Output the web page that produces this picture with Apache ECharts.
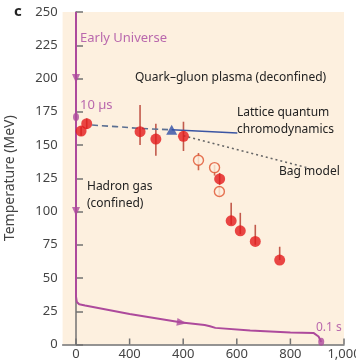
<!DOCTYPE html>
<html><head><meta charset="utf-8">
<script src="https://cdn.jsdelivr.net/npm/echarts@6/dist/echarts.min.js"></script>
<style>html,body{margin:0;padding:0;background:#fff}#c{width:356px;height:364px}</style>
</head><body><div id="c"></div>
<script>
// ---- data ----
const xTickValues = [0, 200, 400, 600, 800, 1000];
const xTickLabels = ['0', '400', '400', '600', '800', '1,000'];   // as printed in the figure

const filledX    = [19, 40, 239, 298, 401, 536, 579, 613, 669, 760];
const filledY    = [160.5, 166, 160, 154.5, 156.5, 124.5, 93, 85.5, 77.5, 63.5];
const filledLow  = [157, 162, 150, 142, 145.5, 120, 90, 83, 75, 63.5];
const filledHigh = [164, 170, 180, 166, 167.5, 129, 106.5, 99, 90, 73.5];

const openX    = [457, 517, 535];
const openY    = [138.5, 133, 115];
const openLow  = [131, 127, 112];
const openHigh = [144, 135, 119];

const latticeX = [357];
const latticeY = [161.5];

const dashedX = [60, 150, 240, 357];
const dashedY = [165, 163.8, 162.5, 161.5];

const lqcdX = [357, 602];
const lqcdY = [161.5, 159];

const bagX = [401, 862];
const bagY = [157, 133];

const trajX = [0, 0, 3, 12, 34, 200, 395, 480, 500, 520, 650, 800, 886, 905, 915];
const trajY = [250, 36, 32, 30.2, 29.3, 23, 16.5, 14.6, 13.7, 12.5, 10.5, 9, 8.7, 6, 2];

const downArrowX = [0, 0];
const downArrowY = [200, 100];
const rightArrowX = [395];
const rightArrowY = [16.5];

const markerX = [0, 915];
const markerY = [171, 2];

// ---- build ----
const zip = (xs, ys) => xs.map((x, i) => [x, ys[i]]);
const purple = '#ad4a9c';
const purpleText = '#b968ad';
const FONT = 'Noto Sans';
const BG = '#fdf0df';
const X_MIN = -50, X_MAX = 1000, Y_MIN = 0, Y_MAX = 250;
const G_LEFT = 62.6, G_RIGHT = 12, G_TOP = 12, G_BOTTOM = 19.5;
const axisGray = '#727272';

function errBars(xs, lows, highs, color) {
  return {
    type: 'custom', z: 3,
    data: xs.map((x, i) => [x, lows[i], highs[i]]),
    renderItem: (params, api) => {
      const p1 = api.coord([api.value(0), api.value(1)]);
      const p2 = api.coord([api.value(0), api.value(2)]);
      return { type: 'line', shape: { x1: p1[0], y1: p1[1], x2: p2[0], y2: p2[1] },
               style: { stroke: color, lineWidth: 1.6 } };
    }
  };
}

const chart = echarts.init(document.getElementById('c'), null, { renderer: 'canvas' });
chart.setOption({
  animation: false,
  backgroundColor: '#ffffff',
  textStyle: { fontFamily: FONT },
  grid: { left: G_LEFT, right: G_RIGHT, top: G_TOP, bottom: G_BOTTOM, containLabel: false, outerBoundsMode: 'none' },
  xAxis: { type: 'value', min: X_MIN, max: X_MAX,
      splitLine: { show: false }, axisTick: { show: false }, axisLabel: { show: false },
      axisLine: { show: true, onZero: false, lineStyle: { color: axisGray, width: 1.5 } } },
  yAxis: { type: 'value', min: Y_MIN, max: Y_MAX, interval: 25,
      name: 'Temperature (MeV)', nameLocation: 'middle', nameGap: 46,
      nameTextStyle: { color: '#444', fontSize: 14, fontFamily: FONT },
      splitLine: { show: false },
      axisLine: { show: true, lineStyle: { color: axisGray, width: 1.5 } },
      axisTick: { show: true, inside: true, length: 7, lineStyle: { color: axisGray, width: 1.5 } },
      axisLabel: { show: true, color: '#444', fontSize: 13, margin: 5, fontFamily: FONT } },
  series: [
    { type: 'custom', z: -1, silent: true, data: [[X_MIN, Y_MAX, X_MAX, Y_MIN]],
      renderItem: (params, api) => {
        const a = api.coord([api.value(0), api.value(1)]);
        const b = api.coord([api.value(2), api.value(3)]);
        return { type: 'rect', shape: { x: a[0], y: a[1], width: b[0] - a[0], height: b[1] - a[1] },
                 style: { fill: BG } };
      } },
    // x tick marks and their printed labels, placed through the x scale
    { type: 'custom', z: 4, silent: true,
      data: xTickValues.map(v => [v, Y_MIN]),
      renderItem: (params, api) => {
        const p = api.coord([api.value(0), api.value(1)]);
        return { type: 'group', children: [
          { type: 'line', shape: { x1: p[0], y1: p[1], x2: p[0], y2: p[1] - 6 },
            style: { stroke: axisGray, lineWidth: 1.5 } },
          { type: 'text', x: p[0], y: p[1] + 3,
            style: { text: xTickLabels[params.dataIndex], fill: '#444', font: '13px "Noto Sans"',
                     align: 'center', verticalAlign: 'top' } }
        ] };
      } },
    { type: 'line', data: zip(trajX, trajY), symbol: 'none', z: 2,
      lineStyle: { color: purple, width: 2 } },
    { type: 'scatter', data: zip(downArrowX, downArrowY), symbol: 'triangle', symbolSize: [8, 9],
      symbolRotate: 180, itemStyle: { color: purple }, z: 2 },
    { type: 'scatter', data: zip(rightArrowX, rightArrowY), symbol: 'triangle', symbolSize: [8, 10],
      symbolRotate: -98, itemStyle: { color: purple }, z: 2 },
    { type: 'scatter', data: zip(markerX, markerY), symbolSize: [6, 8], itemStyle: { color: purple }, z: 2 },
    { type: 'line', data: zip(dashedX, dashedY), symbol: 'none', smooth: true, z: 3,
      lineStyle: { color: '#5b6f92', width: 1.6, type: [6, 4] } },
    { type: 'line', data: zip(lqcdX, lqcdY), symbol: 'none', z: 3,
      lineStyle: { color: '#3b55a3', width: 1.5 } },
    { type: 'line', data: zip(bagX, bagY), symbol: 'none', z: 3,
      lineStyle: { color: '#666', width: 1.6, type: [2, 3] } },
    errBars(filledX, filledLow, filledHigh, '#c25a4c'),
    errBars(openX, openLow, openHigh, '#d0684e'),
    { type: 'scatter', data: zip(filledX, filledY), symbolSize: 11, z: 5,
      itemStyle: { color: '#e41a1c' } },
    { type: 'scatter', data: zip(openX, openY), symbolSize: 10, z: 5,
      itemStyle: { color: BG, borderColor: '#e0522e', borderWidth: 1.4 } },
    { type: 'scatter', data: zip(latticeX, latticeY), symbol: 'triangle', symbolSize: [11, 10], z: 6,
      itemStyle: { color: '#2f4fa6' } }
  ],
  graphic: [
    { type: 'text', left: 14, top: 4, style: { text: 'c', font: 'bold 15px "Noto Sans"', fill: '#222' } },
    { type: 'text', left: 80, top: 32, style: { text: 'Early Universe', font: '13px "Noto Sans"', fill: purpleText } },
    { type: 'text', left: 80, top: 99, style: { text: '10 µs', font: '13px "Noto Sans"', fill: purpleText } },
    { type: 'text', left: 135, top: 72, style: { text: 'Quark–gluon plasma (deconfined)', font: '12px "Noto Sans"', fill: '#222' } },
    { type: 'text', left: 237, top: 107, style: { text: 'Lattice quantum', font: '12px "Noto Sans"', fill: '#222' } },
    { type: 'text', left: 237, top: 124, style: { text: 'chromodynamics', font: '12px "Noto Sans"', fill: '#222' } },
    { type: 'text', left: 279, top: 166, style: { text: 'Bag model', font: '12px "Noto Sans"', fill: '#222' } },
    { type: 'text', left: 87, top: 181, style: { text: 'Hadron gas', font: '12px "Noto Sans"', fill: '#222' } },
    { type: 'text', left: 87, top: 198, style: { text: '(confined)', font: '12px "Noto Sans"', fill: '#222' } },
    { type: 'text', left: 316, top: 322, style: { text: '0.1 s', font: '12px "Noto Sans"', fill: purpleText } }
  ]
});
</script></body></html>
